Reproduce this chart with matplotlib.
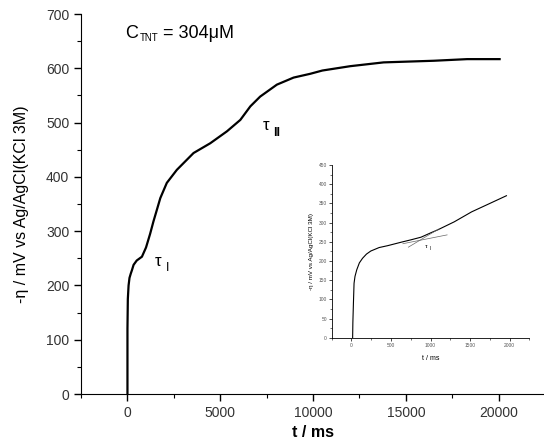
import numpy as np
import matplotlib.pyplot as plt

plt.rcParams['font.family'] = ['Liberation Sans', 'DejaVu Sans']

# Kurva utama: potensial vs waktu
t_main = [0, 0, 20, 60, 110, 180, 240, 330, 500, 780, 1000, 1220, 1400, 1590,
          1770, 2120, 2660, 3560, 4460, 5360, 6080, 6620, 7150, 8050, 8950,
          9850, 10500, 12000, 13800, 16500, 18300, 20050]
v_main = [0, 120, 175, 200, 214, 222, 228, 238, 246, 253, 270, 295, 318, 340,
          361, 389, 413, 444, 462, 484, 505, 530, 548, 570, 583,
          590, 596, 604, 611, 614, 617, 617]

# Inset: perbesaran 0 - 2000 ms
t_ins = [15, 18, 25, 33, 45, 67, 100, 140, 190, 245, 350, 460, 630, 750, 880,
         1010, 1090, 1300, 1520, 1730, 1960]
v_ins = [0, 40, 90, 142, 160, 177, 195, 207, 218, 226, 235, 240, 249, 255, 262,
         274, 281, 302, 328, 348, 370]

# Garis singgung di sekitar tau_I (inset)
tan1_t = [650, 1210]
tan1_v = [245, 268]
tan2_t = [720, 1100]
tan2_v = [236, 283]

fig = plt.figure(figsize=(5.44, 4.4), dpi=100)
ax = fig.add_axes([0.149, 0.1045, 0.853, 0.8635])
ax.plot(t_main, v_main, color='black', lw=1.6)
ax.set_xlim(-2500, 22500)
ax.set_ylim(0, 700)
ax.set_xticks([0, 5000, 10000, 15000, 20000])
ax.set_xticks(np.arange(-2500, 22501, 2500), minor=True)
ax.set_yticks(np.arange(0, 701, 100))
ax.set_yticks(np.arange(0, 701, 50), minor=True)
for s in ['top', 'right']:
    ax.spines[s].set_visible(False)
ax.tick_params(which='major', direction='out', length=5, width=1, labelsize=10,
               labelcolor='#333333')
ax.tick_params(which='minor', direction='out', length=3, width=0.8)
ax.set_ylabel('-η / mV vs Ag/AgCl(KCl 3M)', fontsize=11.5, labelpad=12)
ax.set_xlabel('t / ms', fontsize=11.5, fontweight='bold', labelpad=4)

# Judul konsentrasi
fig.text(125 / 544, 1 - 33 / 440, 'C', fontsize=13, va='center')
fig.text(140 / 544, 1 - 38 / 440, 'TNT', fontsize=7, va='center')
fig.text(163 / 544, 1 - 33 / 440, '= 304μM', fontsize=13, va='center')

ax.text(1450, 245, 'τ', fontsize=12, va='center')
ax.text(2050, 233, 'I', fontsize=9, va='center')
ax.text(7300, 495, 'τ', fontsize=12, va='center')
ax.text(7850, 481, 'II', fontsize=9, va='center', fontweight='bold')

ins = fig.add_axes([0.6097, 0.2323, 0.3634, 0.3927])
ins.plot(t_ins, v_ins, color='black', lw=0.8)
ins.plot(tan1_t, tan1_v, color='#666666', lw=0.5)
ins.plot(tan2_t, tan2_v, color='#666666', lw=0.5)
ins.set_xlim(-250, 2250)
ins.set_ylim(0, 450)
ins.set_xticks([0, 500, 1000, 1500, 2000])
ins.set_xticks(np.arange(-250, 2251, 250), minor=True)
ins.set_yticks(np.arange(0, 451, 50))
ins.set_yticks(np.arange(0, 451, 25), minor=True)
for s in ['top', 'right']:
    ins.spines[s].set_visible(False)
for s in ['left', 'bottom']:
    ins.spines[s].set_linewidth(0.6)
ins.tick_params(which='major', direction='out', length=2, width=0.5, labelsize=3.5,
                labelcolor='#555555', pad=1.5)
ins.tick_params(which='minor', direction='out', length=1.2, width=0.4)
ins.set_ylabel('-η / mV vs Ag/AgCl(KCl 3M)', fontsize=4.5, labelpad=3)
ins.set_xlabel('t / ms', fontsize=5, labelpad=5)
ins.text(930, 238, 'τ', fontsize=4.5, va='center')
ins.text(990, 232, 'I', fontsize=3.5, va='center')

fig.savefig('out.png', dpi=100)
